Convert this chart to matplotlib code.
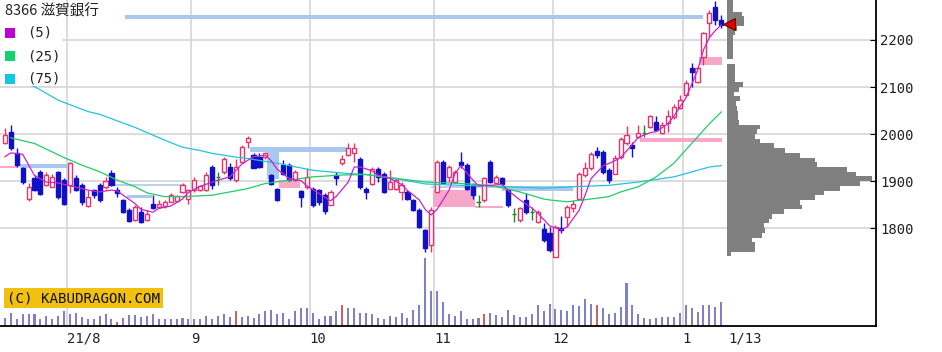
import numpy as np
import matplotlib
matplotlib.use("Agg")
import matplotlib.pyplot as plt
from matplotlib.patches import Rectangle

# ---- data (8366 滋賀銀行, daily) ----
opens = [1981, 2005, 1959, 1927, 1863, 1906, 1920, 1891, 1888, 1920, 1902, 1891, 1906, 1891, 1847, 1881,
         1891, 1888, 1918, 1881, 1860, 1838, 1817, 1835, 1817, 1852, 1845, 1847, 1856, 1857, 1876, 1863,
         1881, 1881, 1881, 1930, 1909, 1920, 1930, 1902, 1941, 1984, 1955, 1952, 1952, 1914, 1884, 1934,
         1934, 1902, 1879, 1888, 1884, 1881, 1870, 1850, 1914, 1938, 1955, 1959, 1948, 1884, 1893, 1926,
         1916, 1884, 1884, 1877, 1877, 1860, 1838, 1796, 1764, 1877, 1941, 1909, 1898, 1941, 1934, 1891,
         1856, 1860, 1941, 1897, 1906, 1881, 1831, 1817, 1860, 1835, 1813, 1799, 1789, 1739, 1801, 1824,
         1842, 1863, 1913, 1927, 1964, 1962, 1923, 1916, 1952, 1981, 1977, 1993, 2002, 2014, 2026, 2003,
         2023, 2037, 2055, 2083, 2140, 2111, 2164, 2236, 2270, 2243]
highs = [2013, 2020, 1970, 1930, 1895, 1913, 1923, 1920, 1916, 1921, 1906, 1941, 1914, 1895, 1881, 1884,
         1895, 1909, 1923, 1888, 1863, 1842, 1849, 1845, 1838, 1870, 1860, 1860, 1874, 1870, 1896, 1884,
         1909, 1891, 1920, 1934, 1920, 1952, 1938, 1948, 1977, 1996, 1959, 1959, 1962, 1916, 1886, 1945,
         1938, 1923, 1881, 1927, 1888, 1884, 1874, 1881, 1920, 1955, 1980, 1980, 1952, 1888, 1930, 1930,
         1920, 1923, 1906, 1898, 1881, 1863, 1842, 1799, 1845, 1945, 1945, 1934, 1923, 1961, 1938, 1895,
         1870, 1909, 1945, 1913, 1909, 1884, 1842, 1845, 1874, 1845, 1838, 1810, 1803, 1806, 1825, 1849,
         1860, 1920, 1941, 1962, 1973, 1966, 1927, 1955, 1993, 2017, 1984, 2019, 2019, 2040, 2038, 2026,
         2051, 2064, 2083, 2115, 2152, 2145, 2218, 2264, 2282, 2253]
lows = [1978, 1966, 1930, 1893, 1857, 1879, 1870, 1890, 1888, 1863, 1849, 1874, 1879, 1850, 1845, 1864,
        1856, 1884, 1890, 1867, 1833, 1813, 1815, 1812, 1815, 1840, 1842, 1842, 1855, 1855, 1874, 1852,
        1877, 1879, 1879, 1884, 1891, 1916, 1902, 1898, 1938, 1970, 1927, 1927, 1948, 1891, 1857, 1913,
        1900, 1900, 1845, 1884, 1845, 1849, 1831, 1849, 1891, 1934, 1954, 1941, 1884, 1863, 1891, 1898,
        1874, 1883, 1881, 1860, 1860, 1836, 1801, 1750, 1750, 1874, 1893, 1898, 1895, 1927, 1881, 1863,
        1845, 1856, 1895, 1895, 1891, 1845, 1813, 1813, 1831, 1817, 1812, 1771, 1750, 1738, 1789, 1803,
        1835, 1860, 1909, 1923, 1950, 1916, 1896, 1915, 1948, 1977, 1952, 1991, 1994, 2012, 2007, 2001,
        2005, 2033, 2053, 2079, 2101, 2108, 2147, 2207, 2232, 2225]
closes = [1998, 1970, 1934, 1898, 1888, 1881, 1872, 1913, 1909, 1867, 1852, 1938, 1881, 1855, 1867, 1870,
          1860, 1900, 1891, 1874, 1835, 1815, 1845, 1813, 1831, 1842, 1852, 1855, 1870, 1869, 1891, 1881,
          1902, 1889, 1914, 1891, 1909, 1948, 1906, 1930, 1973, 1991, 1928, 1930, 1959, 1893, 1860, 1916,
          1902, 1920, 1867, 1909, 1849, 1856, 1836, 1877, 1906, 1948, 1970, 1970, 1888, 1877, 1926, 1909,
          1877, 1898, 1902, 1891, 1863, 1838, 1803, 1757, 1838, 1940, 1895, 1930, 1920, 1934, 1884, 1870,
          1856, 1906, 1898, 1909, 1893, 1849, 1831, 1842, 1835, 1835, 1835, 1774, 1753, 1803, 1796, 1845,
          1851, 1916, 1927, 1957, 1955, 1920, 1902, 1950, 1989, 1998, 1970, 2002, 2002, 2038, 2009, 2019,
          2038, 2057, 2072, 2109, 2133, 2140, 2214, 2257, 2243, 2232]
volumes = [83, 133, 73, 117, 117, 117, 73, 100, 73, 100, 150, 117, 133, 93, 67, 73,
           100, 117, 67, 40, 83, 107, 107, 93, 100, 117, 73, 67, 73, 73, 83, 73,
           73, 73, 100, 73, 100, 117, 93, 150, 93, 100, 83, 117, 150, 160, 117, 133,
           73, 150, 177, 177, 133, 73, 100, 100, 150, 207, 177, 177, 133, 133, 117, 83,
           73, 100, 93, 133, 83, 160, 207, 677, 350, 350, 240, 117, 100, 150, 75, 73,
           83, 117, 133, 107, 93, 160, 107, 93, 93, 117, 207, 150, 223, 173, 160, 150,
           207, 200, 267, 223, 207, 177, 117, 133, 190, 433, 207, 117, 83, 67, 83, 93,
           93, 93, 133, 207, 177, 140, 207, 207, 190, 240]
red_volume_days = [19, 39, 57, 81, 100]

ma5_x = [0, 1, 3, 5, 7, 9, 11, 12, 14, 16, 18, 19, 20, 22, 23, 25, 26, 28, 30, 31, 33, 36, 38, 40, 42,
         44, 45, 46, 48, 50, 51, 53, 55, 56, 58, 59, 60, 62, 63, 65, 67, 68, 70, 71, 72, 73, 75, 76, 77,
         79, 80, 82, 84, 85, 87, 89, 90, 92, 94, 95, 97, 98, 99, 101, 103, 104, 106, 107, 109, 110, 112,
         113, 115, 117, 118, 119, 120, 121]
ma5_y = [1952, 1960, 1957, 1912, 1898, 1896, 1890, 1887, 1881, 1877, 1881, 1879, 1870, 1852, 1840, 1834,
         1842, 1847, 1862, 1876, 1889, 1902, 1909, 1936, 1952, 1955, 1943, 1925, 1906, 1901, 1890, 1874,
         1858, 1868, 1898, 1930, 1930, 1922, 1913, 1906, 1893, 1880, 1860, 1840, 1828, 1840, 1880, 1915,
         1933, 1903, 1890, 1891, 1893, 1880, 1860, 1843, 1832, 1805, 1796, 1803, 1838, 1870, 1905, 1932,
         1943, 1950, 1978, 1993, 2003, 2005, 2022, 2038, 2076, 2135, 2179, 2205, 2220, 2232]
ma25_x = [1, 5, 10, 13, 16, 19, 22, 24, 27, 30, 35, 41, 44, 48, 52, 57, 61, 66, 71, 77, 82, 87, 91, 92,
          95, 99, 102, 104, 107, 110, 113, 116, 119, 121]
ma25_y = [1992, 1980, 1950, 1934, 1920, 1902, 1888, 1875, 1867, 1867, 1870, 1884, 1895, 1902, 1909, 1913,
          1914, 1906, 1898, 1895, 1891, 1877, 1862, 1860, 1856, 1862, 1867, 1877, 1888, 1909, 1938, 1980,
          2022, 2047]
ma75_x = [0, 5, 9, 14, 16, 22, 27, 30, 33, 35, 39, 41, 46, 52, 58, 61, 66, 71, 77, 85, 91, 96, 102, 107,
          113, 119, 121]
ma75_y = [2118, 2101, 2072, 2048, 2042, 2014, 1987, 1972, 1965, 1959, 1951, 1948, 1938, 1923, 1916, 1914,
          1905, 1894, 1891, 1888, 1885, 1888, 1891, 1898, 1909, 1930, 1933]

# price bands (start day, end day, low, high)
blue_bands = [(20.3, 117.9, 2245, 2253), (41.4, 57.8, 1962, 1973), (44.3, 46.3, 1905, 1962),
              (2.5, 10.5, 1928, 1936), (20.6, 24.8, 1864, 1870), (84, 96, 1879, 1889)]
blue_lines = [(18.3, 30.4, 1891), (72, 84, 1887)]
pink_bands = [(46.3, 49.9, 1885, 1902), (72.3, 79.4, 1845, 1881), (107.3, 121.2, 1983, 1992),
              (117.3, 121.2, 2147, 2164)]
pink_lines = [(-0.9, 2.2, 1930), (79.4, 84.1, 1845)]

# price-by-volume profile, 10 yen bins starting at 1740 (width in px)
profile_start = 1740
profile = [4, 28, 28, 25, 35, 38, 37, 42, 45, 57, 75, 73, 88, 97, 113, 133, 145, 129, 120, 90, 88, 73,
           58, 47, 33, 28, 30, 33, 12, 11, 11, 10, 9, 13, 7, 12, 16, 8, 8, 8, 8, 0, 6, 6, 6, 6, 6, 8, 10,
           17, 17, 15, 6, 6, 6]
last_price = 2234

month_pos = [10.5, 31.5, 51.5, 72.5, 92.5, 114.5]
month_labels = ["21/8", "9", "10", "11", "12", "1"]
last_label = "1/13"

# ---- figure ----
W, H = 942, 352
fig = plt.figure(figsize=(W / 100, H / 100), dpi=100)
ax = fig.add_axes([0, 26 / H, 876 / W, 326 / H])
step = 5.92
x0 = -4.9 / step
ax.set_xlim(x0, x0 + 876 / step)
ax.set_ylim(1592, 2285)

n = len(closes)
x = np.arange(n)
o = np.array(opens)
c = np.array(closes)
up_col, dn_col, dj_col = "#e8336a", "#1010c8", "#208a20"
edge = [up_col if cc > oo else (dn_col if cc < oo else dj_col) for oo, cc in zip(o, c)]
face = ["white" if cc > oo else (dn_col if cc < oo else dj_col) for oo, cc in zip(o, c)]

# volume (twin axis, drawn first so the price axis stays on top)
ax2 = ax.twinx()
vcol = ["#c86464" if i in red_volume_days else "#8080c8" for i in x]
ax2.bar(x, volumes, width=0.34, color=vcol, lw=0)
ax2.set_ylim(0, 677 * 326 / 67.7)
ax2.set_yticks([])
for s in ax2.spines.values():
    s.set_visible(False)
ax2.set_zorder(ax.get_zorder() - 1)
ax.patch.set_visible(False)
ax2.patch.set_visible(True)
ax2.patch.set_facecolor("white")

ax.vlines(x, lows, highs, colors=edge, lw=1.0, zorder=3)
ax.bar(x, np.abs(c - o), bottom=np.minimum(o, c), width=0.7, facecolor=face,
       edgecolor=edge, lw=1.0, zorder=4)

# bands
for a, b, lo, hi in blue_bands:
    ax.fill_between([a, b], lo, hi, color="#aac8ee", lw=0, zorder=2)
for a, b, p in blue_lines:
    ax.hlines(p, a, b, color="#aac8ee", lw=1.2, zorder=2)
for a, b, lo, hi in pink_bands:
    ax.fill_between([a, b], lo, hi, color="#f6a8c8", lw=0, zorder=2)
for a, b, p in pink_lines:
    ax.hlines(p, a, b, color="#f6a8c8", lw=1.5, zorder=2)

# moving averages
ax.plot(ma75_x, ma75_y, color="#22c4dd", lw=0.9, zorder=5)
ax.plot(ma25_x, ma25_y, color="#22cc66", lw=0.9, zorder=5)
ax.plot(ma5_x, ma5_y, color="#cc22cc", lw=0.9, zorder=5)

# axes style: gridlines drawn on the (background) volume axis so they sit under everything
ax2.set_xlim(ax.get_xlim())
ax.grid(False)
for p in [1800, 1900, 2000, 2100, 2200]:
    ax2.axhline((p - 1592) / (2285 - 1592) * ax2.get_ylim()[1], color="#d6d6d6", lw=1.2, zorder=0)
for p in month_pos:
    ax2.axvline(p, color="#d6d6d6", lw=1.2, zorder=0)
for s in ["left", "top"]:
    ax.spines[s].set_visible(False)
for s in ["right", "bottom"]:
    ax.spines[s].set_linewidth(1.3)
ax.yaxis.tick_right()
ax.yaxis.set_label_position("right")
ax.set_yticks([1800, 1900, 2000, 2100, 2200])
ax.tick_params(axis="y", direction="in", length=4, pad=3, labelsize=10,
               left=False, labelleft=False, right=True, labelright=True)
ax.set_xticks(month_pos + [n + 0.2])
ax.set_xticklabels(month_labels + [last_label])
ax.tick_params(axis="x", length=0, pad=4, labelsize=10)
for lbl in ax.get_xticklabels() + ax.get_yticklabels():
    lbl.set_fontfamily("DejaVu Sans Mono")
    lbl.set_color("#222222")
for lbl in ax.get_xticklabels():
    lbl.set_ha("left")

# legend / title box
ax.add_patch(Rectangle((0, 1 - 86 / 326), 62 / 876, 86 / 326, transform=ax.transAxes,
                       facecolor="white", edgecolor="none", zorder=6))
fig.text(5 / W, 1 - 11 / H, "8366 滋賀銀行", fontsize=10.5, va="center", ha="left",
         family=["Noto Sans CJK JP", "DejaVu Sans"], color="#222222")
for k, (lab, col) in enumerate([("(5)", "#c000d0"), ("(25)", "#10d070"), ("(75)", "#10c8e0")]):
    yc = 33 + 23 * k
    fig.patches.append(Rectangle((5 / W, 1 - (yc + 5) / H), 10 / W, 10 / H,
                                 transform=fig.transFigure, facecolor=col, edgecolor="none"))
    fig.text(27 / W, 1 - yc / H, lab, fontsize=10, va="center", ha="left",
             family="DejaVu Sans Mono", color="#222222")

ax.text(7 / 876, 1 - 298 / 326, "(C) KABUDRAGON.COM", transform=ax.transAxes, fontsize=10.2,
        family="DejaVu Sans Mono", va="center", ha="left", color="#111111", zorder=7,
        bbox=dict(boxstyle="square,pad=0.18", facecolor="#f2c10f", edgecolor="none"))

# price-by-volume profile
axp = fig.add_axes([727 / W, 26 / H, 149 / W, 326 / H])
axp.set_ylim(ax.get_ylim())
axp.set_xlim(0, 149)
axp.patch.set_alpha(0)
axp.axis("off")
bins = profile_start + 10 * np.arange(len(profile))
axp.barh(bins, profile, height=10, align="edge", color="#808080", lw=0)
axp.plot([1.5], [last_price], marker="<", ms=8, color="#e00000", mec="#700000", mew=0.8,
         clip_on=False, zorder=5)

fig.savefig("out.png", dpi=100, facecolor="white")
